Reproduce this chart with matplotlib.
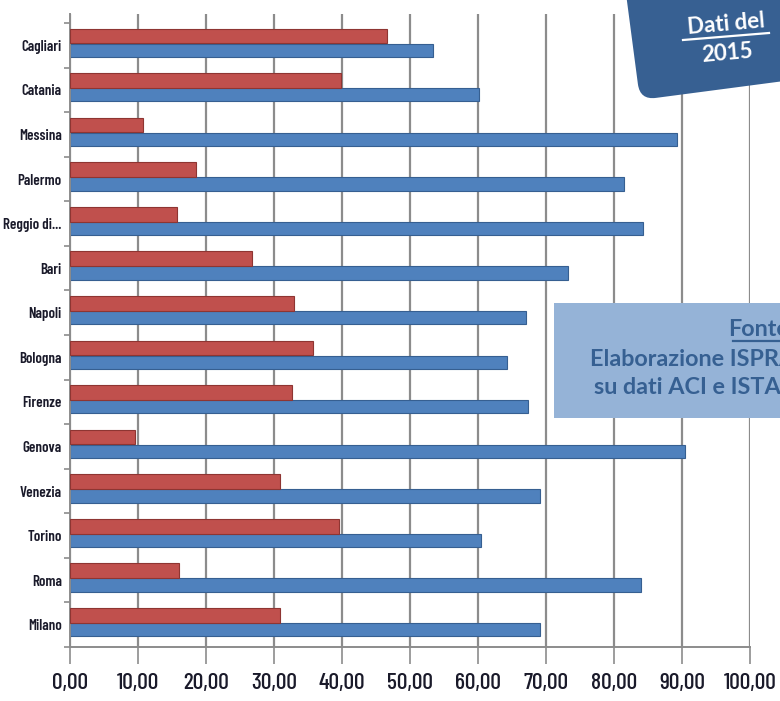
import matplotlib.pyplot as plt
import numpy as np
from matplotlib.patches import FancyBboxPatch, Rectangle
from matplotlib.transforms import Affine2D, IdentityTransform
from matplotlib.lines import Line2D

cities = ["Cagliari", "Catania", "Messina", "Palermo", "Reggio di...", "Bari", "Napoli",
          "Bologna", "Firenze", "Genova", "Venezia", "Torino", "Roma", "Milano"]
red_values = [46.6, 39.9, 10.7, 18.6, 15.7, 26.7, 33.0, 35.8, 32.6, 9.5, 30.9, 39.6, 16.1, 30.9]
blue_values = [53.4, 60.1, 89.3, 81.4, 84.3, 73.3, 67.0, 64.2, 67.4, 90.5, 69.1, 60.4, 83.9, 69.1]
x_ticks = [0, 10, 20, 30, 40, 50, 60, 70, 80, 90, 100]
x_labels = ["%d,00" % t for t in x_ticks]

W, H = 780, 701
box_font = ["Lato", "DejaVu Sans"]
narrow = ["Barlow Condensed", "DejaVu Sans"]

fig = plt.figure(figsize=(W / 100, H / 100), dpi=100)
# axes in pixel terms: left 70, right 750, top 14, bottom 647
ax = fig.add_axes([70 / W, (H - 647) / H, 680 / W, (647 - 14) / H])

y = np.arange(len(cities))
ax.barh(y - 0.21, red_values, height=0.33, color="#C0504D", edgecolor="#8E3532",
        linewidth=0.8, zorder=3)
ax.barh(y + 0.11, blue_values, height=0.30, color="#4F81BD", edgecolor="#365F91",
        linewidth=0.8, zorder=2)

ax.set_xlim(0, 100)
ax.set_ylim(13.5, -0.5 - 9 / 44.57)
ax.set_xticks(x_ticks)
ax.set_xticklabels(x_labels, family=narrow, fontweight=500, fontsize=17, color="#1a1a2a")
ax.set_yticks(y)
ax.set_yticklabels(cities, family=narrow, fontweight=600, fontsize=10.8, color="#1a1a2a")
ax.set_yticks(np.arange(-0.5, 14, 1), minor=True)
ax.tick_params(axis="y", which="major", length=0, pad=6)
ax.tick_params(axis="y", which="minor", length=4, color="#8c8c8c", width=1.2)
ax.tick_params(axis="x", length=12, color="#8c8c8c", width=1.2, pad=7)

ax.grid(axis="x", color="#8c8c8c", linewidth=1.6, zorder=0)
for side in ["top", "right"]:
    ax.spines[side].set_visible(False)
for side in ["left", "bottom"]:
    ax.spines[side].set_color("#8c8c8c")
    ax.spines[side].set_linewidth(1.4)

# "Dati del 2015" tag, tilted dark blue box
px = IdentityTransform()
angle = 7.5
rot = Affine2D().rotate_deg_around(640, H - 100, angle)
tag = FancyBboxPatch((640, H - 100), 180, 120, boxstyle="round,pad=0,rounding_size=16",
                     facecolor="#376092", edgecolor="none", transform=rot + px, zorder=10)
fig.patches.append(tag)
for txt, (tx, ty) in [("Dati del", (726, H - 24)), ("2015", (727, H - 53))]:
    fig.text(tx / W, ty / H, txt, color="white", fontsize=16, fontweight="bold",
             family=box_font, ha="center", va="center", rotation=5, zorder=11)
fig.lines.append(Line2D([683, 769], [H - 40, H - 33], color="white", linewidth=1.6,
                        transform=px, zorder=11))

# source box on the right
fig.patches.append(Rectangle((554, H - 418), 260, 115, facecolor="#95B3D7",
                             edgecolor="none", transform=px, zorder=10))
src_lines = [("Fonte:", H - 329), ("Elaborazione ISPRA", H - 359), ("su dati ACI e ISTAT", H - 388)]
for txt, ty in src_lines:
    fig.text(795 / W, ty / H, txt, color="#366092", fontsize=16.8, fontweight="bold",
             family=box_font, ha="right", va="center", zorder=11)
fig.lines.append(Line2D([733, 797], [H - 341, H - 341], color="#366092", linewidth=1.6,
                        transform=px, zorder=11))

fig.savefig("out.png", dpi=100)
